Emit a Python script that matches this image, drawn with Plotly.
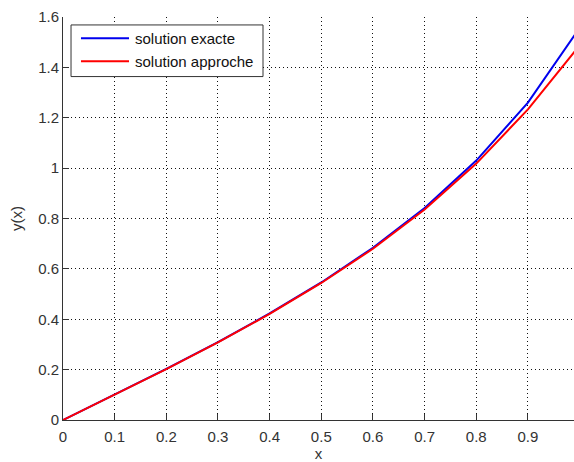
import plotly.graph_objects as go

x_vals = [0.0, 0.1, 0.2, 0.3, 0.4, 0.5, 0.6, 0.7, 0.8, 0.9, 1.0]
y_exacte = [0.0, 0.100, 0.203, 0.309, 0.423, 0.546, 0.684, 0.842, 1.030, 1.260, 1.557]
y_approche = [0.0, 0.100, 0.202, 0.308, 0.421, 0.544, 0.680, 0.836, 1.018, 1.233, 1.487]

series_names = ["solution exacte", "solution approche"]
series_colors = ["#0000ee", "#ff0000"]

x_ticks = [0, 0.1, 0.2, 0.3, 0.4, 0.5, 0.6, 0.7, 0.8, 0.9]
x_ticklabels = ["0", "0.1", "0.2", "0.3", "0.4", "0.5", "0.6", "0.7", "0.8", "0.9"]
y_ticks = [0, 0.2, 0.4, 0.6, 0.8, 1.0, 1.2, 1.4, 1.6]
y_ticklabels = ["0", "0.2", "0.4", "0.6", "0.8", "1", "1.2", "1.4", "1.6"]

fig = go.Figure()
for yv, name, col in zip([y_exacte, y_approche], series_names, series_colors):
    fig.add_trace(go.Scatter(x=x_vals, y=yv, mode="lines", name=name,
                             line=dict(color=col, width=2), showlegend=False))

FONT_FAMILY = "Liberation Sans, Arial, sans-serif"
tick_font = dict(family=FONT_FAMILY, size=15, color="#333333")
axis_common = dict(showline=True, linecolor="#333333", linewidth=1,
                   ticks="inside", ticklen=6, tickcolor="#333333",
                   showgrid=True, gridcolor="#111111", gridwidth=1, griddash="1px,3px",
                   zeroline=False, tickfont=tick_font)

# manual legend (MATLAB style) in paper coordinates
leg_x0, leg_x1, leg_y0, leg_y1 = 0.0157, 0.3914, 0.8522, 0.9803
line_x0, line_x1 = 0.0352, 0.1292
text_x = 0.137
row_y = [0.9475, 0.8899]

shapes = [dict(type="rect", xref="paper", yref="paper", x0=leg_x0, x1=leg_x1, y0=leg_y0, y1=leg_y1,
               line=dict(color="#333333", width=1), fillcolor="white", layer="above")]
annotations = []
for name, col, yy in zip(series_names, series_colors, row_y):
    shapes.append(dict(type="line", xref="paper", yref="paper", x0=line_x0, x1=line_x1, y0=yy, y1=yy,
                       line=dict(color=col, width=2), layer="above"))
    annotations.append(dict(xref="paper", yref="paper", x=text_x, y=yy, text=name, showarrow=False,
                            xanchor="left", yanchor="middle",
                            font=dict(family=FONT_FAMILY, size=15, color="#111111")))

fig.update_layout(
    width=574, height=462,
    margin=dict(l=63, r=0, t=17, b=39),
    paper_bgcolor="white", plot_bgcolor="white",
    font=dict(family=FONT_FAMILY, size=15, color="#333333"),
    xaxis=dict(range=[0, 0.9892], tickvals=x_ticks, ticktext=x_ticklabels,
               ticklabelstandoff=3,
               title=dict(text="x", font=dict(family=FONT_FAMILY, size=15, color="#333333"), standoff=6),
               **axis_common),
    yaxis=dict(range=[0, 1.6], tickvals=y_ticks, ticktext=y_ticklabels,
               title=dict(text="y(x)", font=dict(family=FONT_FAMILY, size=15, color="#333333"), standoff=11),
               **axis_common),
    shapes=shapes,
    annotations=annotations,
    showlegend=False,
)

fig.write_html("out.html", config={"displayModeBar": False},
               post_script="document.body.style.margin='0';document.body.style.overflow='hidden';")
